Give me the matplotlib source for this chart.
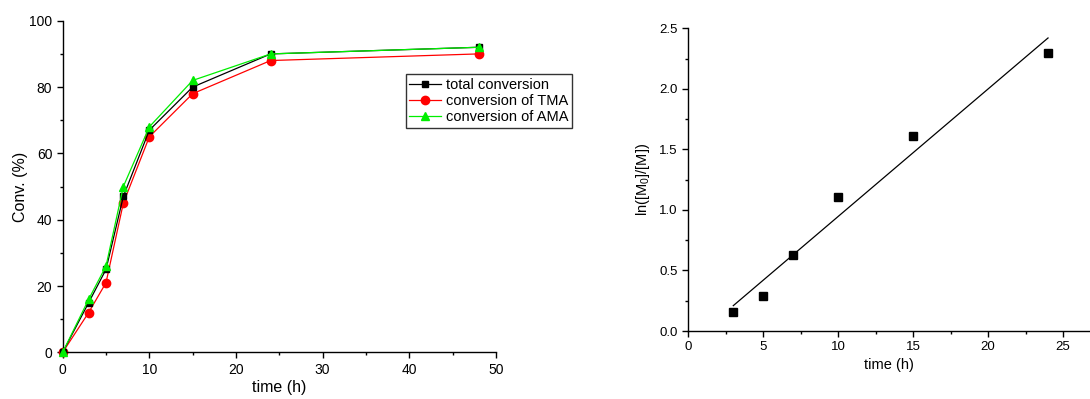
import numpy as np
import matplotlib
matplotlib.use("Agg")
import matplotlib.pyplot as plt
from matplotlib.ticker import MultipleLocator

plt.rcParams['font.family'] = ['Liberation Sans', 'DejaVu Sans']
plt.rcParams['mathtext.default'] = 'regular'

# conversion vs time
time_h = [0, 3, 5, 7, 10, 15, 24, 48]
conv_total = [0, 15, 25, 47, 67, 80, 90, 92]
conv_tma = [0, 12, 21, 45, 65, 78, 88, 90]
conv_ama = [0, 16, 26, 50, 68, 82, 90, 92]

# kinetics: ln([M0]/[M]) vs time
kin_time = [3, 5, 7, 10, 15, 24]
kin_ln = [0.16, 0.29, 0.63, 1.11, 1.61, 2.30]


def style_axes(ax, tick_size):
    ax.spines['top'].set_visible(False)
    ax.spines['right'].set_visible(False)
    for s in ('left', 'bottom'):
        ax.spines[s].set_linewidth(1.0)
    ax.tick_params(which='both', direction='out', labelsize=tick_size)
    ax.tick_params(which='major', length=4, width=1)
    ax.tick_params(which='minor', length=2.5, width=1)


fig = plt.figure(figsize=(10.9, 3.99), dpi=100)

# left panel
ax1 = fig.add_axes([0.0575, 0.117, 0.3975, 0.831])
ax1.plot(time_h, conv_total, '-s', color='black', ms=5, lw=0.9,
         label='total conversion', zorder=3)
ax1.plot(time_h, conv_tma, '-o', color='red', ms=6, lw=0.9,
         label='conversion of TMA', zorder=2)
ax1.plot(time_h, conv_ama, '-^', color='#00ee00', ms=6, lw=0.9,
         label='conversion of AMA', zorder=4)
ax1.set_xlim(0, 50)
ax1.set_ylim(0, 100)
ax1.xaxis.set_major_locator(MultipleLocator(10))
ax1.xaxis.set_minor_locator(MultipleLocator(5))
ax1.yaxis.set_major_locator(MultipleLocator(20))
ax1.yaxis.set_minor_locator(MultipleLocator(10))
style_axes(ax1, 10)
ax1.set_xlabel('time (h)', fontsize=11.5, labelpad=2)
ax1.set_ylabel('Conv. (%)', fontsize=11.5, labelpad=1)
for ln in ax1.lines:
    ln.set_clip_on(False)
leg = ax1.legend(loc='upper left', fontsize=10.5,
                 frameon=True, fancybox=False, borderpad=0.25,
                 labelspacing=0.15, handlelength=2.2, handletextpad=0.3,
                 borderaxespad=0)
leg.get_frame().set_edgecolor('black')
leg.get_frame().set_linewidth(1.0)
leg.set_bbox_to_anchor((405.5 / 1090, 1 - 74 / 399), transform=fig.transFigure)

# right panel
ax2 = fig.add_axes([0.6315, 0.1704, 0.3685, 0.7586])
ax2.plot(kin_time, kin_ln, 's', color='black', ms=5.5)
slope, icpt = np.polyfit(kin_time, kin_ln, 1)
fit_x = np.array([kin_time[0], kin_time[-1]])
ax2.plot(fit_x, slope * fit_x + icpt, '-', color='black', lw=0.9)
ax2.set_xlim(0, 26.8)
ax2.set_ylim(0, 2.5)
ax2.xaxis.set_major_locator(MultipleLocator(5))
ax2.xaxis.set_minor_locator(MultipleLocator(2.5))
ax2.yaxis.set_major_locator(MultipleLocator(0.5))
ax2.yaxis.set_minor_locator(MultipleLocator(0.25))
style_axes(ax2, 9.5)
ax2.set_xlabel('time (h)', fontsize=10.5, labelpad=3)
ax2.set_ylabel('ln([M$_0$]/[M])', fontsize=10.5, labelpad=5)

fig.savefig('out.png', dpi=100)
